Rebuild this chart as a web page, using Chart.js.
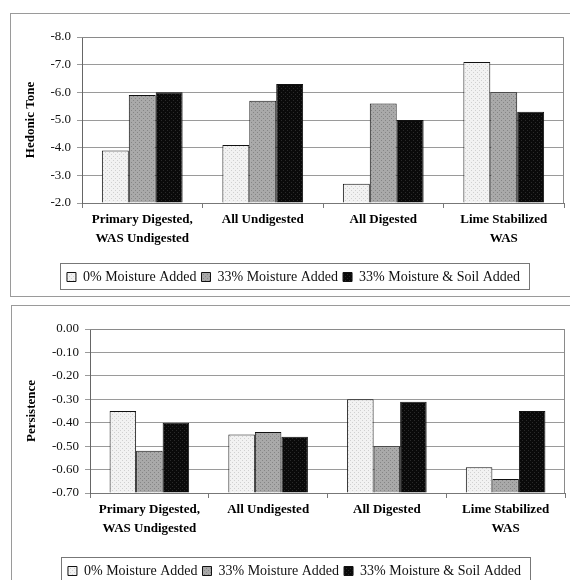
<!DOCTYPE html>
<html>
<head>
<meta charset="utf-8">
<script src="https://cdn.jsdelivr.net/npm/chart.js@4.4.1/dist/chart.umd.min.js"></script>
<style>
  body { margin: 0; background: #fff; width: 570px; height: 580px; overflow: hidden; position: relative; }
  .panel { position: absolute; border: 1px solid #9a9a9a; border-right: none; background: #fff; }
  #p1 { left: 10px; top: 13px; width: 560px; height: 282px; }
  #p2 { left: 11px; top: 305px; width: 560px; height: 290px; border-bottom: none; }
  canvas { display: block; }
</style>
</head>
<body>
<div class="panel" id="p1"><canvas id="tone" width="559" height="282"></canvas></div>
<div class="panel" id="p2"><canvas id="persist" width="559" height="290"></canvas></div>
<script>
const categories = [['Primary Digested,', 'WAS Undigested'], ['All Undigested'], ['All Digested'], ['Lime Stabilized', 'WAS']];
const seriesNames = ['0% Moisture Added', '33% Moisture Added', '33% Moisture & Soil Added'];

// hedonic tone (axis drawn reversed, -8 at top)
const toneDry  = [-3.9, -4.1, -2.7, -7.1];
const toneWet  = [-5.9, -5.7, -5.6, -6.0];
const toneSoil = [-6.0, -6.3, -5.0, -5.3];
const toneRange = [-8, -2];

// persistence
const persistDry  = [-0.35, -0.45, -0.30, -0.59];
const persistWet  = [-0.52, -0.44, -0.50, -0.64];
const persistSoil = [-0.40, -0.46, -0.31, -0.35];
const persistRange = [-0.7, 0];

const serif = "'Liberation Serif', 'Times New Roman', serif";

// fine dotted fills like the scanned original
function stipple(bg, dot) {
    const c = document.createElement('canvas');
    c.width = 4; c.height = 4;
    const g = c.getContext('2d');
    g.fillStyle = bg; g.fillRect(0, 0, 4, 4);
    g.fillStyle = dot;
    g.fillRect(0, 0, 1, 1);
    g.fillRect(2, 2, 1, 1);
    return g.createPattern(c, 'repeat');
}
const fills = [stipple('#f2f2f2', '#d0d0d0'), stipple('#a9a9a9', '#858585'), stipple('#0a0a0a', '#2a2a2a')];

const framePlugin = {
    id: 'frame',
    afterDraw(chart) {
        const { ctx, chartArea: a } = chart;
        ctx.save();
        ctx.strokeStyle = '#8a8a8a';
        ctx.lineWidth = 1;
        ctx.beginPath();
        ctx.moveTo(a.left, a.top + 0.5);
        ctx.lineTo(a.right - 0.5, a.top + 0.5);
        ctx.lineTo(a.right - 0.5, a.bottom);
        ctx.stroke();
        // box round the legend
        const boxes = chart.legend.legendHitBoxes;
        if (boxes && boxes.length) {
            const l = Math.min(...boxes.map(b => b.left)) - 7;
            const r = Math.max(...boxes.map(b => b.left + b.width)) + 9;
            const t = Math.min(...boxes.map(b => b.top)) - 7;
            const btm = Math.max(...boxes.map(b => b.top + b.height)) + 5;
            ctx.strokeStyle = '#777';
            ctx.strokeRect(Math.round(l) + 0.5, Math.round(t) + 0.5, Math.round(r - l), Math.round(btm - t));
        }
        ctx.restore();
    }
};

function makeChart(id, data, range, reverse, title, fmt, yWidth, xHeight, padBottom) {
    const ctx = document.getElementById(id).getContext('2d');
    return new Chart(ctx, {
        type: 'bar',
        data: {
            labels: categories,
            datasets: data.map((d, i) => ({
                label: seriesNames[i],
                data: d,
                base: reverse ? range[1] : range[0],
                backgroundColor: fills[i],
                borderColor: '#111',
                borderWidth: 1,
                categoryPercentage: 0.67,
                barPercentage: 1.0
            }))
        },
        options: {
            responsive: false,
            animation: false,
            devicePixelRatio: 1,
            layout: { padding: { left: 12, top: 23, right: 6, bottom: padBottom } },
            plugins: {
                tooltip: { enabled: false },
                legend: {
                    position: 'bottom',
                    labels: {
                        font: { family: serif, size: 14 },
                        color: '#111',
                        boxWidth: 9,
                        boxHeight: 9,
                        padding: 5
                    }
                }
            },
            scales: {
                x: {
                    afterFit: s => { s.height = xHeight; },
                    grid: { offset: true, drawOnChartArea: false, drawTicks: true, tickLength: 5, color: '#777' },
                    border: { color: '#777' },
                    ticks: {
                        font: { family: serif, size: 13, weight: 'bold', lineHeight: 1.4 },
                        color: '#000',
                        padding: 3,
                        maxRotation: 0,
                        autoSkip: false
                    }
                },
                y: {
                    min: range[0],
                    max: range[1],
                    reverse: reverse,
                    afterFit: s => { s.width = yWidth; },
                    grid: { color: '#9a9a9a', tickLength: 5 },
                    border: { color: '#666' },
                    ticks: {
                        stepSize: reverse ? 1 : 0.1,
                        font: { family: serif, size: 13 },
                        color: '#111',
                        padding: 6,
                        callback: v => fmt(v)
                    },
                    title: {
                        display: true,
                        text: title,
                        font: { family: serif, size: 13, weight: 'bold' },
                        color: '#000',
                        padding: { top: 0, bottom: 4 }
                    }
                }
            }
        },
        plugins: [framePlugin]
    });
}

makeChart('tone', [toneDry, toneWet, toneSoil], toneRange, true, 'Hedonic Tone',
    v => (Math.abs(v) < 1e-9 ? 0 : v).toFixed(1), 59, 62, 2);
makeChart('persist', [persistDry, persistWet, persistSoil], persistRange, false, 'Persistence',
    v => (Math.abs(v) < 1e-9 ? 0 : v).toFixed(2), 66, 66, 8);
</script>
</body>
</html>
